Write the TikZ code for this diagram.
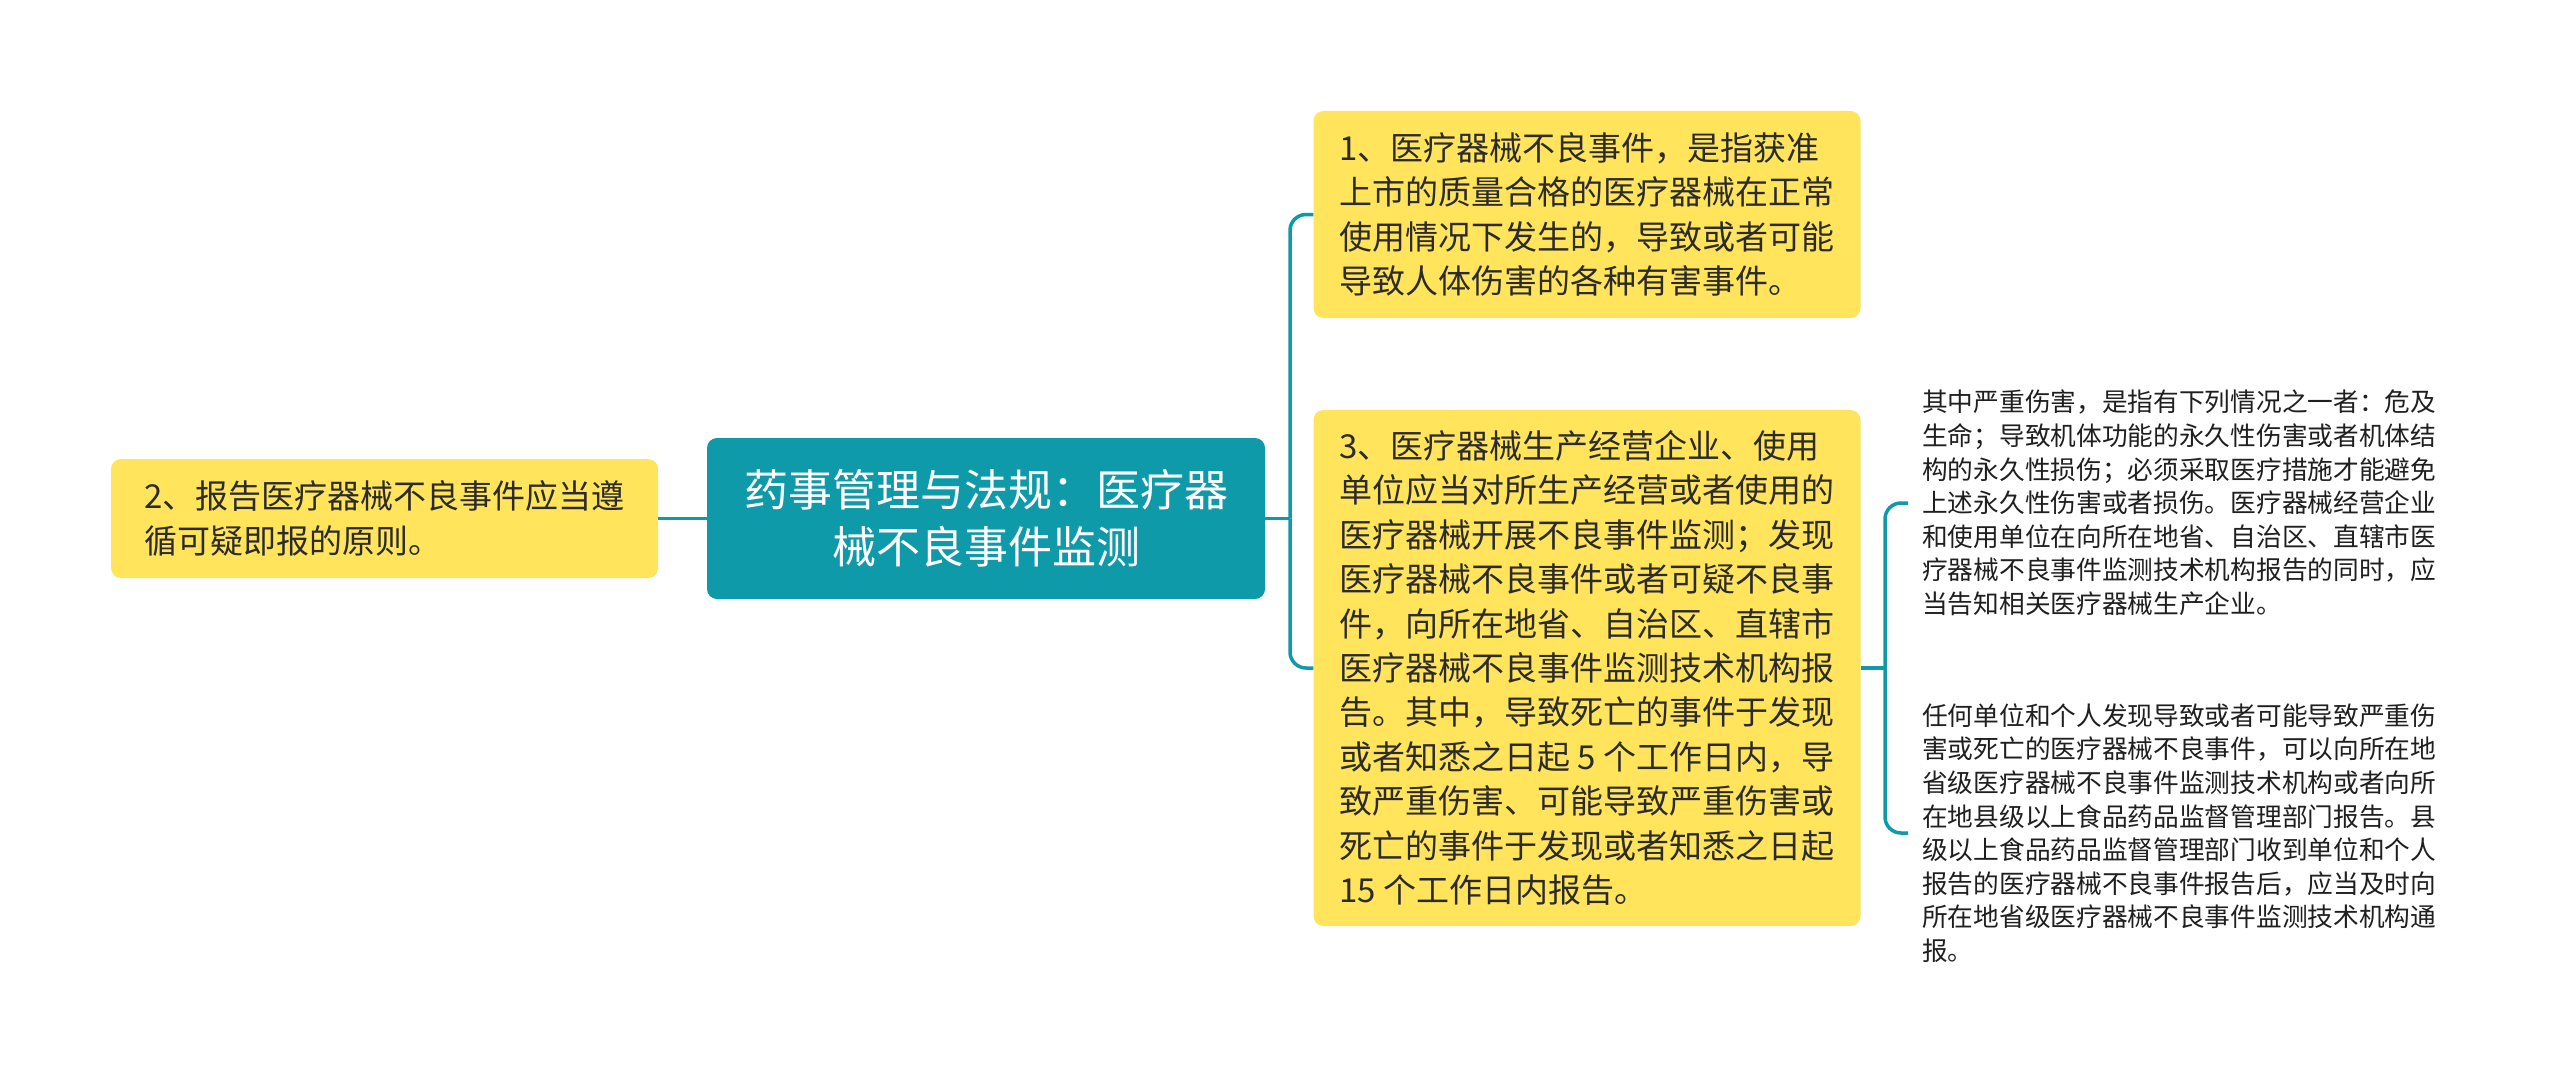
\documentclass[tikz,border=0pt]{standalone}
\usepackage{fontspec}
\setmainfont{Noto Sans CJK SC}
\definecolor{teal1}{HTML}{0E9AA8}
\definecolor{yel}{HTML}{FFE45C}
\definecolor{txt}{HTML}{2B2B2B}
\begin{document}
\begin{tikzpicture}[x=1pt,y=-1pt,
  ybox/.style={fill=yel, rounded corners=10pt, inner sep=0pt, align=left, text=txt,
     font=\fontsize{33}{44.4}\selectfont},
  cbox/.style={fill=teal1, rounded corners=10pt, inner sep=0pt, align=center, text=white,
     font=\fontsize{44}{57}\selectfont},
  ptxt/.style={inner xsep=14pt, inner ysep=0pt, align=left, text=black!88,
     font=\fontsize{25.7}{33.6}\selectfont, anchor=west},
  conn/.style={draw=teal1, line width=3.5pt},
  bconn/.style={conn, rounded corners=16pt}]
\useasboundingbox (0,0) rectangle (2560,1089);
\fill[white] (0,0) rectangle (2560,1089);

\node[cbox, minimum width=558pt, minimum height=161pt] (c) at (986,518.5)
  {药事管理与法规：医疗器\\械不良事件监测};
\node[ybox, minimum width=547pt, minimum height=119pt] (n2) at (384.5,518.5)
  {2、报告医疗器械不良事件应当遵\\循可疑即报的原则。};
\node[ybox, minimum width=547pt, minimum height=207pt] (n1) at (1587,214.5)
  {1、医疗器械不良事件，是指获准\\上市的质量合格的医疗器械在正常\\使用情况下发生的，导致或者可能\\导致人体伤害的各种有害事件。};
\node[ybox, minimum width=547pt, minimum height=516pt] (n3) at (1587,668)
  {3、医疗器械生产经营企业、使用\\单位应当对所生产经营或者使用的\\医疗器械开展不良事件监测；发现\\医疗器械不良事件或者可疑不良事\\件，向所在地省、自治区、直辖市\\医疗器械不良事件监测技术机构报\\告。其中，导致死亡的事件于发现\\或者知悉之日起 5 个工作日内，导\\致严重伤害、可能导致严重伤害或\\死亡的事件于发现或者知悉之日起\\15 个工作日内报告。};
\node[ptxt] (ta) at (1908,503)
  {其中严重伤害，是指有下列情况之一者：危及\\生命；导致机体功能的永久性伤害或者机体结\\构的永久性损伤；必须采取医疗措施才能避免\\上述永久性伤害或者损伤。医疗器械经营企业\\和使用单位在向所在地省、自治区、直辖市医\\疗器械不良事件监测技术机构报告的同时，应\\当告知相关医疗器械生产企业。};
\node[ptxt] (tb) at (1908,833)
  {任何单位和个人发现导致或者可能导致严重伤\\害或死亡的医疗器械不良事件，可以向所在地\\省级医疗器械不良事件监测技术机构或者向所\\在地县级以上食品药品监督管理部门报告。县\\级以上食品药品监督管理部门收到单位和个人\\报告的医疗器械不良事件报告后，应当及时向\\所在地省级医疗器械不良事件监测技术机构通\\报。};

\coordinate (j1) at (1290,518.5);
\coordinate (j2) at (1885,668);
\draw[conn] (c.west) -- (n2.east);
\draw[conn] (c.east) -- (j1);
\draw[bconn] (j1) |- (n1.west);
\draw[bconn] (j1) |- (n3.west);
\draw[conn] (n3.east) -- (j2);
\draw[bconn] (j2) |- (ta.west);
\draw[bconn] (j2) |- (tb.west);
\end{tikzpicture}
\end{document}
